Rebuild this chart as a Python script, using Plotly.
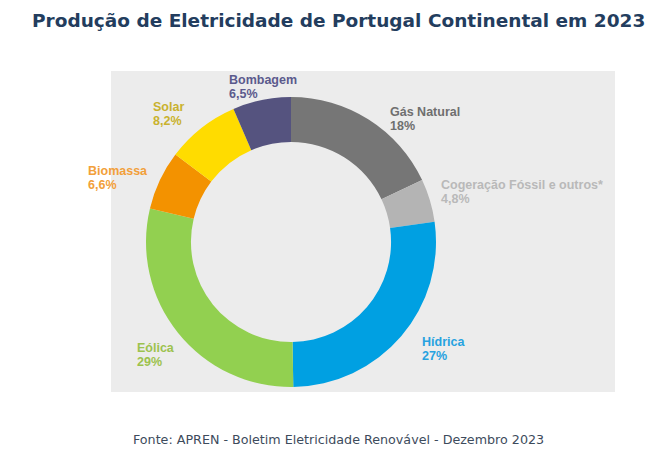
import plotly.graph_objects as go

# ---- data ----
categories = ["Gás Natural", "Cogeração Fóssil e outros*", "Hídrica", "Eólica",
              "Biomassa", "Solar", "Bombagem"]
values = [18, 4.8, 27, 29, 6.6, 8.2, 6.5]
slice_colors = ["#767676", "#b4b4b4", "#00a0e2", "#92d050", "#f39200", "#ffdc00", "#55537f"]
label_colors = ["#6f6f6f", "#b9b9b9", "#27a2e0", "#9cc24e", "#f2a03a", "#c9b22e", "#5b5a8c"]

title_text = "Produção de Eletricidade de Portugal Continental em 2023"
source_text = "Fonte: APREN - Boletim Eletricidade Renovável - Dezembro 2023"

# ---- layout helpers ----
W, H = 665, 453
label_anchor = {  # left x and first-line centre y (pixels) of each label block
    "Gás Natural": (388, 112),
    "Cogeração Fóssil e outros*": (439, 185),
    "Hídrica": (420, 342),
    "Eólica": (135, 348),
    "Biomassa": (86, 171),
    "Solar": (151, 107),
    "Bombagem": (227, 80),
}
LINE_GAP = 14


def fmt(v):
    s = ("%d" % v) if float(v).is_integer() else ("%g" % v).replace(".", ",")
    return s + "%"


cx, cy, R = 291, 242, 145

fig = go.Figure(go.Pie(
    labels=categories,
    values=values,
    sort=False,
    direction="clockwise",
    rotation=0,
    hole=0.69,
    textinfo="none",
    marker=dict(colors=slice_colors, line=dict(width=0)),
    showlegend=False,
    domain=dict(x=[(cx - R) / W, (cx + R) / W],
                y=[(H - cy - R) / H, (H - cy + R) / H]),
))

annotations = []
for name, v, col in zip(categories, values, label_colors):
    px, py = label_anchor[name]
    for i, line in enumerate([name, fmt(v)]):
        annotations.append(dict(
            x=px / W, y=1 - (py + i * LINE_GAP) / H, xref="paper", yref="paper",
            xanchor="left", yanchor="middle", align="left", showarrow=False,
            text="<b>%s</b>" % line,
            font=dict(family="Liberation Sans, Arial", size=12.5, color=col),
        ))

annotations.append(dict(
    x=338 / W, y=1 - 20 / H, xref="paper", yref="paper",
    xanchor="center", yanchor="middle", showarrow=False,
    text="<b>%s</b>" % title_text,
    font=dict(family="DejaVu Sans", size=18.5, color="#233d5e"),
))
annotations.append(dict(
    x=338 / W, y=1 - 439 / H, xref="paper", yref="paper",
    xanchor="center", yanchor="middle", showarrow=False,
    text=source_text,
    font=dict(family="DejaVu Sans", size=12.7, color="#3d4b5c"),
))

fig.update_layout(
    width=W, height=H,
    margin=dict(l=0, r=0, t=0, b=0),
    paper_bgcolor="white",
    plot_bgcolor="white",
    annotations=annotations,
    shapes=[dict(type="rect", xref="paper", yref="paper",
                 x0=111 / W, x1=615 / W, y0=1 - 392 / H, y1=1 - 71 / H,
                 fillcolor="#ececec", line=dict(width=0), layer="below")],
)

fig.write_html("out.html")
